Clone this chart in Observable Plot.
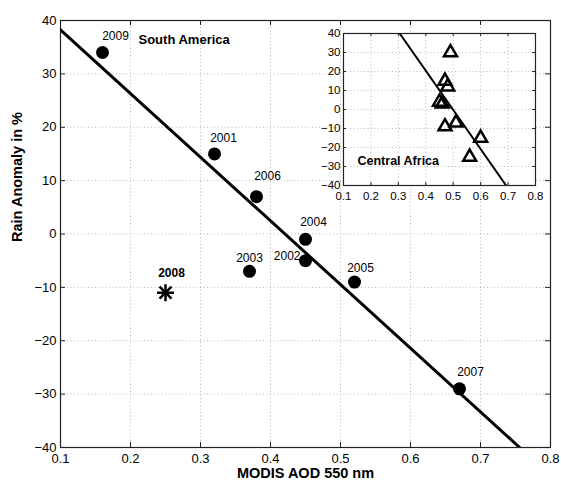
<!DOCTYPE html>
<html><head><meta charset="utf-8">
<script src="https://cdn.jsdelivr.net/npm/d3@7"></script>
<script src="https://cdn.jsdelivr.net/npm/@observablehq/plot@0.6"></script>
<style>
body{margin:0;background:#fff;}
#wrap{position:relative;width:561px;height:483px;}
#inset{position:absolute;left:300px;top:25px;}
svg{font-family:"Liberation Sans",Arial,Helvetica,sans-serif;}
</style></head><body><div id="wrap"><div id="main"></div><div id="inset"></div></div>
<script>
// South America (main panel)
const years = ["2009","2001","2006","2004","2002","2003","2005","2007"];
const aod   = [0.16, 0.32, 0.38, 0.45, 0.45, 0.37, 0.52, 0.67];
const rain  = [34, 15, 7, -1, -5, -7, -9, -29];
const outlierYear = ["2008"];
const outlierAod  = [0.25];
const outlierRain = [-11];
const fitAod  = [0.1, 0.756];
const fitRain = [38.25, -40];
// Central Africa (inset)
const africaAod  = [0.49, 0.47, 0.48, 0.45, 0.46, 0.47, 0.51, 0.60, 0.56];
const africaRain = [30, 15, 12, 4, 3, -9, -7, -15, -25];
const africaFitAod  = [0.305, 0.693];
const africaFitRain = [40, -40];
// ticks
const xTicks = [0.1, 0.2, 0.3, 0.4, 0.5, 0.6, 0.7, 0.8];
const yTicks = [-40, -30, -20, -10, 0, 10, 20, 30, 40];

// label layout (pixel offsets from each point)
const labelDx = [13, 9, 11, 8, -5, 0, 6, 11];
const labelDy = [-16, -16, -20, -17, -5, -13, -14, -17];
const labelAnchor = ["middle","middle","middle","middle","end","middle","middle","middle"];

const font = '"Liberation Sans",Arial,Helvetica,sans-serif';
const fmtY = d => d < 0 ? "\u2212" + (-d) : String(d);
const fmtX = d => d.toFixed(1);

const W = 561, H = 483, mL = 60, mR = 11, mT = 20, mB = 36;
const iw = W - mL - mR, ih = H - mT - mB;
const idx = years.map((_, i) => i);

const main = Plot.plot({
  width: W, height: H, marginLeft: mL, marginRight: mR, marginTop: mT, marginBottom: mB,
  style: {fontFamily: font, fontSize: "13px", background: "transparent", color: "black", overflow: "visible"},
  x: {domain: [0.1, 0.8]},
  y: {domain: [-40, 40]},
  marks: [
    Plot.gridX(xTicks, {stroke: "#b8b8b8", strokeOpacity: 1, strokeDasharray: "1,2.5"}),
    Plot.gridY(yTicks, {stroke: "#b8b8b8", strokeOpacity: 1, strokeDasharray: "1,2.5"}),
    Plot.tickX(xTicks, {x: d => d, insetTop: ih - 5, stroke: "#222"}),
    Plot.tickX(xTicks, {x: d => d, insetBottom: ih - 5, stroke: "#222"}),
    Plot.tickY(yTicks, {y: d => d, insetRight: iw - 5, stroke: "#222"}),
    Plot.tickY(yTicks, {y: d => d, insetLeft: iw - 5, stroke: "#222"}),
    Plot.frame({stroke: "#222", strokeWidth: 1.2}),
    Plot.axisX(xTicks, {tickSize: 0, tickPadding: 6, label: null, tickFormat: fmtX, fontSize: 13}),
    Plot.axisY(yTicks, {tickSize: 0, tickPadding: 4, label: null, tickFormat: fmtY, fontSize: 13}),
    Plot.line([0, 1], {x: i => fitAod[i], y: i => fitRain[i], stroke: "black", strokeWidth: 3, clip: true}),
    Plot.dot(idx, {x: i => aod[i], y: i => rain[i], r: 6.5, fill: "black"}),
    Plot.dot([0], {x: i => outlierAod[i], y: i => outlierRain[i], symbol: "plus", r: 5.5, stroke: "black", strokeWidth: 2.5}),
    Plot.dot([0], {x: i => outlierAod[i], y: i => outlierRain[i], symbol: "times", r: 5.5, stroke: "black", strokeWidth: 2.5}),
    ...idx.map(i => Plot.text([i], {x: j => aod[j], y: j => rain[j], text: j => years[j],
      dx: labelDx[i], dy: labelDy[i], textAnchor: labelAnchor[i], fontSize: 12, fill: "black"})),
    Plot.text([0], {x: i => outlierAod[i], y: i => outlierRain[i], text: i => outlierYear[i],
      dx: 6, dy: -20, fontSize: 12, fontWeight: "bold", fill: "black"}),
    Plot.text(["South America"], {frameAnchor: "top-left", dx: 78, dy: 14, textAnchor: "start", fontSize: 13, fontWeight: "bold", fill: "black"}),
    Plot.text(["MODIS AOD 550 nm"], {frameAnchor: "bottom", dy: 30.5, fontSize: 14.5, fontWeight: "bold", fill: "black"}),
    Plot.text(["Rain Anomaly in %"], {frameAnchor: "left", dx: -43, dy: 8, rotate: -90, fontSize: 14.5, fontWeight: "bold", fill: "black"})
  ]
});
document.getElementById("main").appendChild(main);

const IW = 250, IH = 190, imL = 43, imR = 15, imT = 8, imB = 30;
const iiw = IW - imL - imR, iih = IH - imT - imB;
const aidx = africaAod.map((_, i) => i);
const inset = Plot.plot({
  width: IW, height: IH, marginLeft: imL, marginRight: imR, marginTop: imT, marginBottom: imB,
  style: {fontFamily: font, fontSize: "11.5px", background: "transparent", color: "black", overflow: "visible"},
  x: {domain: [0.1, 0.8]},
  y: {domain: [-40, 40]},
  marks: [
    Plot.frame({fill: "white", stroke: null}),
    Plot.gridX(xTicks, {stroke: "#bbb", strokeOpacity: 1, strokeDasharray: "1,2.5"}),
    Plot.gridY(yTicks, {stroke: "#bbb", strokeOpacity: 1, strokeDasharray: "1,2.5"}),
    Plot.tickX(xTicks, {x: d => d, insetTop: iih - 3, stroke: "#222"}),
    Plot.tickX(xTicks, {x: d => d, insetBottom: iih - 3, stroke: "#222"}),
    Plot.tickY(yTicks, {y: d => d, insetRight: iiw - 3, stroke: "#222"}),
    Plot.tickY(yTicks, {y: d => d, insetLeft: iiw - 3, stroke: "#222"}),
    Plot.frame({stroke: "#222", strokeWidth: 1.2}),
    Plot.axisX(xTicks, {tickSize: 0, tickPadding: 6, label: null, tickFormat: fmtX, fontSize: 11.5}),
    Plot.axisY(yTicks, {tickSize: 0, tickPadding: 3, label: null, tickFormat: fmtY, fontSize: 11.5}),
    Plot.line([0, 1], {x: i => africaFitAod[i], y: i => africaFitRain[i], stroke: "black", strokeWidth: 2, clip: true}),
    Plot.dot(aidx, {x: i => africaAod[i], y: i => africaRain[i], symbol: "triangle", r: 4.8, fill: "none", stroke: "black", strokeWidth: 2.5}),
    Plot.text(["Central Africa"], {frameAnchor: "bottom-left", dx: 14, dy: -21, textAnchor: "start", fontSize: 12.5, fontWeight: "bold", fill: "black"})
  ]
});
document.getElementById("inset").appendChild(inset);
</script></body></html>
